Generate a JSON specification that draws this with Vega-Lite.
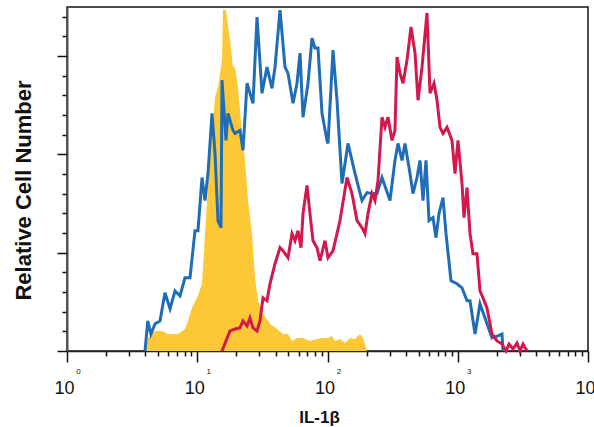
{
  "$schema": "https://vega.github.io/schema/vega-lite/v6.json",
  "width": 521,
  "height": 344,
  "autosize": "none",
  "padding": {"left": 67, "top": 7, "right": 6, "bottom": 76},
  "config": {
    "view": {"stroke": "#111", "strokeWidth": 1.5},
    "font": "Liberation Sans"
  },
  "datasets": {
    "iso": [
      {"x": 3.97, "y": 0}, {"x": 4.19, "y": 0.133}, {"x": 4.74, "y": 0.204}, {"x": 5.36, "y": 0.204},
      {"x": 5.96, "y": 0.173}, {"x": 6.51, "y": 0.173}, {"x": 7.11, "y": 0.173}, {"x": 8.05, "y": 0.224},
      {"x": 8.49, "y": 0.306}, {"x": 9.11, "y": 0.439}, {"x": 9.96, "y": 0.541}, {"x": 10.88, "y": 0.684},
      {"x": 11.47, "y": 1.194}, {"x": 12.09, "y": 1.663}, {"x": 12.98, "y": 2.214}, {"x": 13.69, "y": 2.582},
      {"x": 14.43, "y": 2.684}, {"x": 15.49, "y": 2.959}, {"x": 15.76, "y": 3.469}, {"x": 16.62, "y": 3.469},
      {"x": 17.84, "y": 3.163}, {"x": 18.82, "y": 2.888}, {"x": 19.49, "y": 2.888}, {"x": 20.55, "y": 2.684},
      {"x": 22.06, "y": 2.214}, {"x": 23.26, "y": 1.939}, {"x": 24.53, "y": 1.531}, {"x": 26.32, "y": 1.194},
      {"x": 27.76, "y": 0.745}, {"x": 29.27, "y": 0.51}, {"x": 31.98, "y": 0.378}, {"x": 36.19, "y": 0.276},
      {"x": 40.96, "y": 0.224}, {"x": 45.54, "y": 0.173}, {"x": 49.74, "y": 0.173}, {"x": 53.4, "y": 0.102},
      {"x": 58.33, "y": 0.133}, {"x": 64.86, "y": 0.133}, {"x": 73.38, "y": 0.102}, {"x": 83.06, "y": 0.122},
      {"x": 92.36, "y": 0.133}, {"x": 100.9, "y": 0.133}, {"x": 108.3, "y": 0.153}, {"x": 114.2, "y": 0.102},
      {"x": 124.7, "y": 0.122}, {"x": 136.2, "y": 0.082}, {"x": 148.8, "y": 0.133}, {"x": 162.6, "y": 0.122},
      {"x": 177.6, "y": 0.173}, {"x": 187.3, "y": 0.133}, {"x": 201.1, "y": 0}
    ],
    "unstim": [
      {"x": 3.97, "y": 0}, {"x": 4.17, "y": 0.306}, {"x": 4.41, "y": 0.173}, {"x": 4.74, "y": 0.276},
      {"x": 5.18, "y": 0.306}, {"x": 5.65, "y": 0.592}, {"x": 6.18, "y": 0.429}, {"x": 6.75, "y": 0.612},
      {"x": 7.37, "y": 0.561}, {"x": 8.05, "y": 0.745}, {"x": 8.8, "y": 0.745}, {"x": 9.61, "y": 1.224},
      {"x": 10.13, "y": 1.224}, {"x": 10.88, "y": 1.765}, {"x": 11.47, "y": 1.531}, {"x": 12.09, "y": 1.806},
      {"x": 12.98, "y": 2.418}, {"x": 13.69, "y": 2.01}, {"x": 14.43, "y": 1.327}, {"x": 15.22, "y": 1.255},
      {"x": 15.49, "y": 2.755}, {"x": 16.62, "y": 2.143}, {"x": 17.22, "y": 2.418}, {"x": 18.82, "y": 2.245},
      {"x": 19.49, "y": 2.214}, {"x": 21.29, "y": 2.245}, {"x": 22.45, "y": 2.041}, {"x": 24.1, "y": 2.724},
      {"x": 25.41, "y": 2.622}, {"x": 26.79, "y": 2.52}, {"x": 28.76, "y": 3.398}, {"x": 31.41, "y": 2.622},
      {"x": 34.31, "y": 2.888}, {"x": 37.49, "y": 2.673}, {"x": 39.54, "y": 2.888}, {"x": 43.19, "y": 3.469},
      {"x": 47.18, "y": 2.888}, {"x": 49.74, "y": 2.827}, {"x": 54.35, "y": 2.52}, {"x": 58.33, "y": 2.724},
      {"x": 61.51, "y": 3.031}, {"x": 64.86, "y": 2.378}, {"x": 70.86, "y": 2.724}, {"x": 76.03, "y": 3.184},
      {"x": 80.17, "y": 3.082}, {"x": 84.54, "y": 3.082}, {"x": 90.75, "y": 2.418}, {"x": 99.13, "y": 2.143},
      {"x": 100.9, "y": 2.112}, {"x": 110.2, "y": 3.061}, {"x": 118.3, "y": 2.551}, {"x": 129.2, "y": 1.704},
      {"x": 143.7, "y": 2.112}, {"x": 162.6, "y": 1.806}, {"x": 184.0, "y": 1.531}, {"x": 201.1, "y": 1.612},
      {"x": 219.6, "y": 1.602}, {"x": 239.9, "y": 1.602}, {"x": 262.0, "y": 1.765}, {"x": 301.8, "y": 1.531},
      {"x": 329.7, "y": 1.939}, {"x": 347.7, "y": 2.112}, {"x": 373.3, "y": 1.939}, {"x": 393.6, "y": 2.112},
      {"x": 429.9, "y": 1.806}, {"x": 453.3, "y": 1.602}, {"x": 486.6, "y": 1.765}, {"x": 513.2, "y": 1.939},
      {"x": 541.1, "y": 1.531}, {"x": 570.5, "y": 1.939}, {"x": 601.6, "y": 1.327}, {"x": 645.7, "y": 1.357},
      {"x": 680.8, "y": 1.153}, {"x": 717.8, "y": 1.398}, {"x": 770.6, "y": 1.561}, {"x": 812.5, "y": 1.194},
      {"x": 887.6, "y": 0.714}, {"x": 986.8, "y": 0.684}, {"x": 1078, "y": 0.643}, {"x": 1178, "y": 0.51},
      {"x": 1242, "y": 0.51}, {"x": 1357, "y": 0.173}, {"x": 1482, "y": 0.48}, {"x": 1619, "y": 0.337},
      {"x": 1832, "y": 0.133}, {"x": 2037, "y": 0.153}, {"x": 2186, "y": 0.173}, {"x": 2225, "y": 0}
    ],
    "stim": [
      {"x": 15.49, "y": 0}, {"x": 17.84, "y": 0.204}, {"x": 19.49, "y": 0.224}, {"x": 21.29, "y": 0.235},
      {"x": 22.45, "y": 0.306}, {"x": 24.1, "y": 0.255}, {"x": 25.41, "y": 0.337}, {"x": 26.79, "y": 0.235},
      {"x": 28.76, "y": 0.204}, {"x": 30.32, "y": 0.306}, {"x": 31.98, "y": 0.541}, {"x": 34.31, "y": 0.51},
      {"x": 36.19, "y": 0.684}, {"x": 39.54, "y": 0.888}, {"x": 43.19, "y": 1.051}, {"x": 45.54, "y": 1.02},
      {"x": 49.74, "y": 0.949}, {"x": 53.4, "y": 1.194}, {"x": 56.29, "y": 1.122}, {"x": 59.36, "y": 1.224},
      {"x": 62.59, "y": 1.051}, {"x": 64.86, "y": 1.398}, {"x": 69.6, "y": 1.684}, {"x": 73.38, "y": 1.398},
      {"x": 77.4, "y": 1.122}, {"x": 83.06, "y": 1.051}, {"x": 87.58, "y": 0.918}, {"x": 95.68, "y": 1.122},
      {"x": 100.9, "y": 0.949}, {"x": 110.2, "y": 1.02}, {"x": 124.7, "y": 1.327}, {"x": 141.2, "y": 1.765},
      {"x": 154.2, "y": 1.602}, {"x": 168.5, "y": 1.327}, {"x": 184.0, "y": 1.255}, {"x": 194.1, "y": 1.194},
      {"x": 204.6, "y": 1.398}, {"x": 219.6, "y": 1.602}, {"x": 231.6, "y": 1.531}, {"x": 244.2, "y": 1.735},
      {"x": 262.0, "y": 2.378}, {"x": 276.3, "y": 2.276}, {"x": 291.4, "y": 2.378}, {"x": 312.8, "y": 2.143},
      {"x": 329.7, "y": 2.245}, {"x": 341.7, "y": 2.99}, {"x": 360.3, "y": 2.827}, {"x": 379.9, "y": 2.724},
      {"x": 407.7, "y": 2.959}, {"x": 437.7, "y": 3.296}, {"x": 469.8, "y": 3.031}, {"x": 495.3, "y": 2.551},
      {"x": 531.6, "y": 2.888}, {"x": 580.6, "y": 3.439}, {"x": 612.4, "y": 2.622}, {"x": 657.4, "y": 2.724},
      {"x": 693.1, "y": 2.551}, {"x": 730.6, "y": 2.276}, {"x": 770.6, "y": 2.214}, {"x": 827.1, "y": 2.276},
      {"x": 903.5, "y": 2.143}, {"x": 952.6, "y": 1.806}, {"x": 1004, "y": 2.143}, {"x": 1078, "y": 1.704},
      {"x": 1117, "y": 1.357}, {"x": 1178, "y": 1.663}, {"x": 1242, "y": 1.194}, {"x": 1309, "y": 0.99},
      {"x": 1405, "y": 0.99}, {"x": 1482, "y": 0.612}, {"x": 1562, "y": 0.541}, {"x": 1677, "y": 0.439},
      {"x": 1832, "y": 0.173}, {"x": 2001, "y": 0.102}, {"x": 2186, "y": 0.071}, {"x": 2346, "y": 0},
      {"x": 2475, "y": 0.071}, {"x": 2656, "y": 0.02}, {"x": 2850, "y": 0.082}, {"x": 3005, "y": 0},
      {"x": 3170, "y": 0.071}, {"x": 3402, "y": 0}
    ]
  },
  "layer": [
    {
      "data": {"name": "iso"},
      "mark": {"type": "area", "color": "#FDC836", "interpolate": "linear"},
      "encoding": {
        "x": {
          "field": "x", "type": "quantitative",
          "scale": {"type": "log", "domain": [1, 10000]},
          "axis": {
            "orient": "bottom",
            "values": [2, 3, 4, 5, 6, 7, 8, 9, 20, 30, 40, 50, 60, 70, 80, 90, 200, 300, 400, 500, 600, 700, 800, 900, 2000, 3000, 4000, 5000, 6000, 7000, 8000, 9000],
            "labels": false, "title": null, "grid": false,
            "tickSize": 5, "tickColor": "#111", "tickWidth": 1.5,
            "domainColor": "#222", "domainWidth": 1.5
          }
        },
        "y": {
          "field": "y", "type": "quantitative",
          "scale": {"domain": [0, 3.5]},
          "axis": {
            "orient": "left",
            "values": [0.2, 0.4, 0.6, 0.8, 1.2, 1.4, 1.6, 1.8, 2.2, 2.4, 2.6, 2.8, 3.2, 3.4],
            "labels": false, "grid": false,
            "tickSize": 5, "tickColor": "#111", "tickWidth": 1.5,
            "domainColor": "#555", "domainWidth": 2,
            "title": "Relative Cell Number",
            "titleFontSize": 22, "titleFontWeight": "bold", "titleColor": "#111",
            "titleX": -37, "titleY": 183, "titleBaseline": "alphabetic"
          }
        }
      }
    },
    {
      "data": {"name": "unstim"},
      "mark": {"type": "line", "color": "#1F6DB6", "strokeWidth": 3, "interpolate": "linear"},
      "encoding": {
        "x": {
          "field": "x", "type": "quantitative",
          "scale": {"type": "log", "domain": [1, 10000]},
          "axis": {
            "orient": "bottom",
            "values": [1, 10, 100, 1000, 10000],
            "labelExpr": "'10'",
            "labelFlush": false, "labelOverlap": false,
            "labelFontSize": 18, "labelColor": "#111", "labelBaseline": "alphabetic",
            "labelPadding": 31, "labelOffset": -3,
            "grid": false, "domain": false,
            "tickSize": 11, "tickColor": "#111", "tickWidth": 1.5,
            "title": "IL-1β", "titleFontSize": 17, "titleFontWeight": "bold", "titleColor": "#111",
            "titleX": 252, "titleY": 71, "titleBaseline": "alphabetic"
          }
        },
        "y": {
          "field": "y", "type": "quantitative",
          "scale": {"domain": [0, 3.5]},
          "axis": {
            "orient": "left",
            "values": [0, 1, 2, 3],
            "labels": false, "grid": false, "domain": false, "title": null,
            "tickSize": 10, "tickColor": "#111", "tickWidth": 1.5
          }
        }
      }
    },
    {
      "data": {"name": "stim"},
      "mark": {"type": "line", "color": "#D2184C", "strokeWidth": 3, "interpolate": "linear"},
      "encoding": {
        "x": {
          "field": "x", "type": "quantitative",
          "scale": {"type": "log", "domain": [1, 10000]},
          "axis": {
            "orient": "bottom",
            "values": [1, 10, 100, 1000, 10000],
            "labelExpr": "format(log(datum.value) / log(10), '.0f')",
            "labelFlush": false, "labelOverlap": false,
            "labelFontSize": 8, "labelColor": "#111", "labelBaseline": "alphabetic",
            "labelPadding": 22, "labelOffset": 11,
            "ticks": false, "grid": false, "domain": false, "title": null
          }
        },
        "y": {
          "field": "y", "type": "quantitative",
          "scale": {"domain": [0, 3.5]},
          "axis": null
        }
      }
    }
  ],
  "resolve": {"axis": {"x": "independent", "y": "independent"}}
}
